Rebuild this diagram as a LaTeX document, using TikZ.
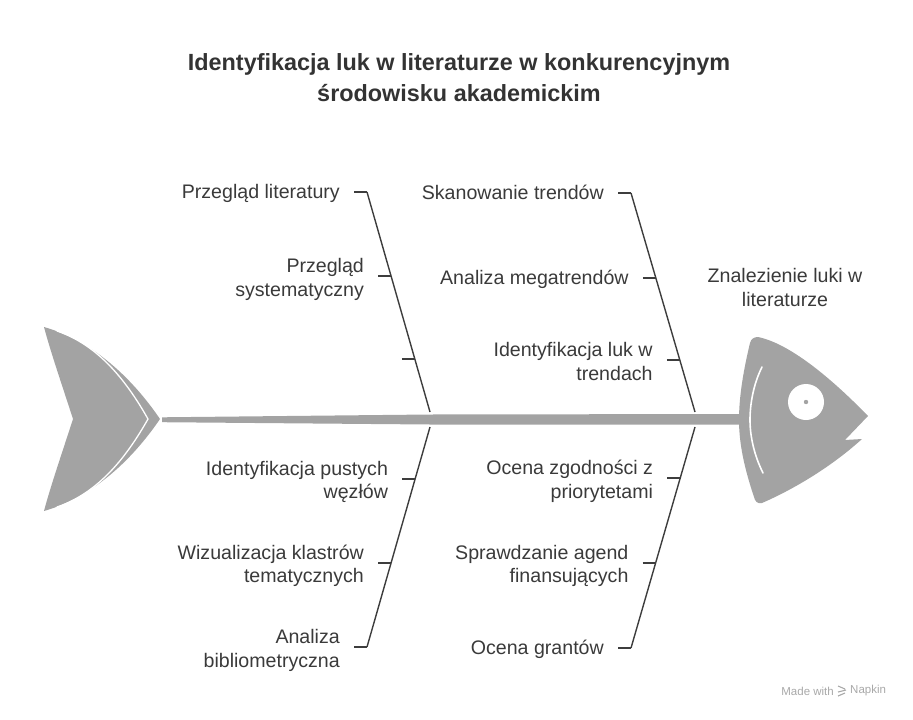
\documentclass[tikz,border=0pt]{standalone}
\usepackage{fontspec}
\setmainfont{Liberation Sans}
\usetikzlibrary{calc}
\definecolor{fishgray}{HTML}{A3A3A3}
\definecolor{bonecol}{HTML}{3D3D3D}
\definecolor{txtcol}{HTML}{3A3A3A}
\definecolor{titlecol}{HTML}{333333}
\definecolor{markcol}{HTML}{A8A8A8}
\newcommand{\labstrut}{\rule[-5pt]{0pt}{26.5pt}}
\begin{document}
\lineskiplimit=-100pt\relax
\lineskip=0pt\relax
\begin{tikzpicture}[x=1pt,y=-1pt,
  lbl/.style={anchor=east, align=right, inner sep=0pt, font=\fontsize{19.6}{23.5}\selectfont, text=txtcol},
  headlbl/.style={align=center, inner sep=0pt, font=\fontsize{19.6}{23.5}\selectfont, text=txtcol},
  titlelbl/.style={align=center, inner sep=0pt, font=\fontsize{23.4}{31}\selectfont\bfseries, text=titlecol},
  marklbl/.style={inner sep=0pt, font=\fontsize{11.5}{13}\selectfont, text=markcol},
  bone/.style={draw=bonecol, line width=1.4pt},
  fishpart/.style={fill=fishgray},
  whiteline/.style={draw=white, line width=1.6pt, line cap=round}]
\useasboundingbox (0,0) rectangle (913,720);

% title
\node[titlelbl] (title) at (459,77.5) {Identyfikacja luk w literaturze w konkurencyjnym\\środowisku akademickim};

% tail
\fill[fishpart] (44,327) .. controls (90,340) and (130,375) .. (160,419)
  .. controls (130,463) and (90,498) .. (44,511)
  .. controls (50,488) and (62,453) .. (73,419)
  .. controls (62,385) and (50,350) .. (44,327) -- cycle;
\draw[whiteline, line width=1.3pt] (57,331) .. controls (98,345) and (126,380) .. (148,419)
  .. controls (126,458) and (98,493) .. (57,507);

% spine
\fill[fishpart] (162,417.3) -- (430,414.5) -- (742,414) -- (742,424.5) -- (430,424.5) -- (162,422.2) -- cycle;

% head
\fill[fishpart] (758,337) .. controls (792,344) and (836,383) .. (868,416)
  -- (845,440) -- (862,439)
  .. controls (830,468) and (792,490) .. (762,503)
  .. controls (757,504) and (755,501) .. (754,497)
  .. controls (745,470) and (739,445) .. (739,420)
  .. controls (739,395) and (744,368) .. (750,343)
  .. controls (751,339) and (754,337) .. (758,337) -- cycle;
\draw[whiteline] (762,367) .. controls (753,385) and (750,405) .. (750,420)
  .. controls (750,436) and (754,455) .. (763,473);
\fill[white] (806,402) circle[radius=18];
\fill[fishgray] (806,402) circle[radius=2.2];

% bones
\coordinate (ULtop) at (367,192);
\coordinate (ULbot) at (430,412);
\coordinate (URtop) at (631,193);
\coordinate (URbot) at (695,412);
\coordinate (LLtop) at (430,427);
\coordinate (LLbot) at (367,647);
\coordinate (LRtop) at (695,427);
\coordinate (LRbot) at (631,648);
\draw[bone] (ULtop) -- (ULbot);
\draw[bone] (URtop) -- (URbot);
\draw[bone] (LLtop) -- (LLbot);
\draw[bone] (LRtop) -- (LRbot);

% tick points
\coordinate (ul1) at (ULtop);
\coordinate (ul2) at ($(ULtop)!0.382!(ULbot)$);
\coordinate (ul3) at ($(ULtop)!0.759!(ULbot)$);
\coordinate (ur1) at (URtop);
\coordinate (ur2) at ($(URtop)!0.388!(URbot)$);
\coordinate (ur3) at ($(URtop)!0.763!(URbot)$);
\coordinate (ll1) at ($(LLtop)!0.236!(LLbot)$);
\coordinate (ll2) at ($(LLtop)!0.618!(LLbot)$);
\coordinate (ll3) at (LLbot);
\coordinate (lr1) at ($(LRtop)!0.231!(LRbot)$);
\coordinate (lr2) at ($(LRtop)!0.615!(LRbot)$);
\coordinate (lr3) at (LRbot);

\foreach \t in {ul1,ul2,ul3,ur1,ur2,ur3,ll1,ll2,ll3,lr1,lr2,lr3}{
  \coordinate (\t s) at ([xshift=-13pt]\t);
  \draw[bone] (\t s) -- (\t);
}

% labels
\node[lbl] (tul1) at ([xshift=-14pt,yshift=1.5pt]ul1s) {\labstrut Przegląd literatury};
\node[lbl] (tul2) at ([xshift=-14pt]ul2s) {\labstrut Przegląd\\\labstrut systematyczny};
\node[lbl] (tur1) at ([xshift=-14pt,yshift=1.5pt]ur1s) {\labstrut Skanowanie trendów};
\node[lbl] (tur2) at ([xshift=-14pt,yshift=1.5pt]ur2s) {\labstrut Analiza megatrendów};
\node[lbl] (tur3) at ([xshift=-14pt]ur3s) {\labstrut Identyfikacja luk w\\\labstrut trendach};
\node[lbl] (tll1) at ([xshift=-14pt]ll1s) {\labstrut Identyfikacja pustych\\\labstrut węzłów};
\node[lbl] (tll2) at ([xshift=-14pt]ll2s) {\labstrut Wizualizacja klastrów\\\labstrut tematycznych};
\node[lbl] (tll3) at ([xshift=-14pt]ll3s) {\labstrut Analiza\\\labstrut bibliometryczna};
\node[lbl] (tlr1) at ([xshift=-14pt]lr1s) {\labstrut Ocena zgodności z\\\labstrut priorytetami};
\node[lbl] (tlr2) at ([xshift=-14pt]lr2s) {\labstrut Sprawdzanie agend\\\labstrut finansujących};
\node[lbl] (tlr3) at ([xshift=-14pt,yshift=1.5pt]lr3s) {\labstrut Ocena grantów};

\node[headlbl] (effect) at (785,286) {\labstrut Znalezienie luki w\\\labstrut literaturze};

% watermark
\node[marklbl, anchor=east] (mw) at (834,691) {Made with};
\node[marklbl, anchor=west] (nk) at (850,691) {Napkin};
\coordinate (ic) at ($(mw.east)!0.5!(nk.west)$);
\draw[markcol, line width=1.1pt] ([xshift=-4pt,yshift=-5pt]ic) -- ([xshift=3pt,yshift=-2pt]ic)
  ([xshift=-4pt,yshift=-1pt]ic) -- ([xshift=4pt,yshift=1pt]ic)
  ([xshift=-4pt,yshift=5pt]ic) -- ([xshift=3pt,yshift=2pt]ic);
\end{tikzpicture}
\end{document}
